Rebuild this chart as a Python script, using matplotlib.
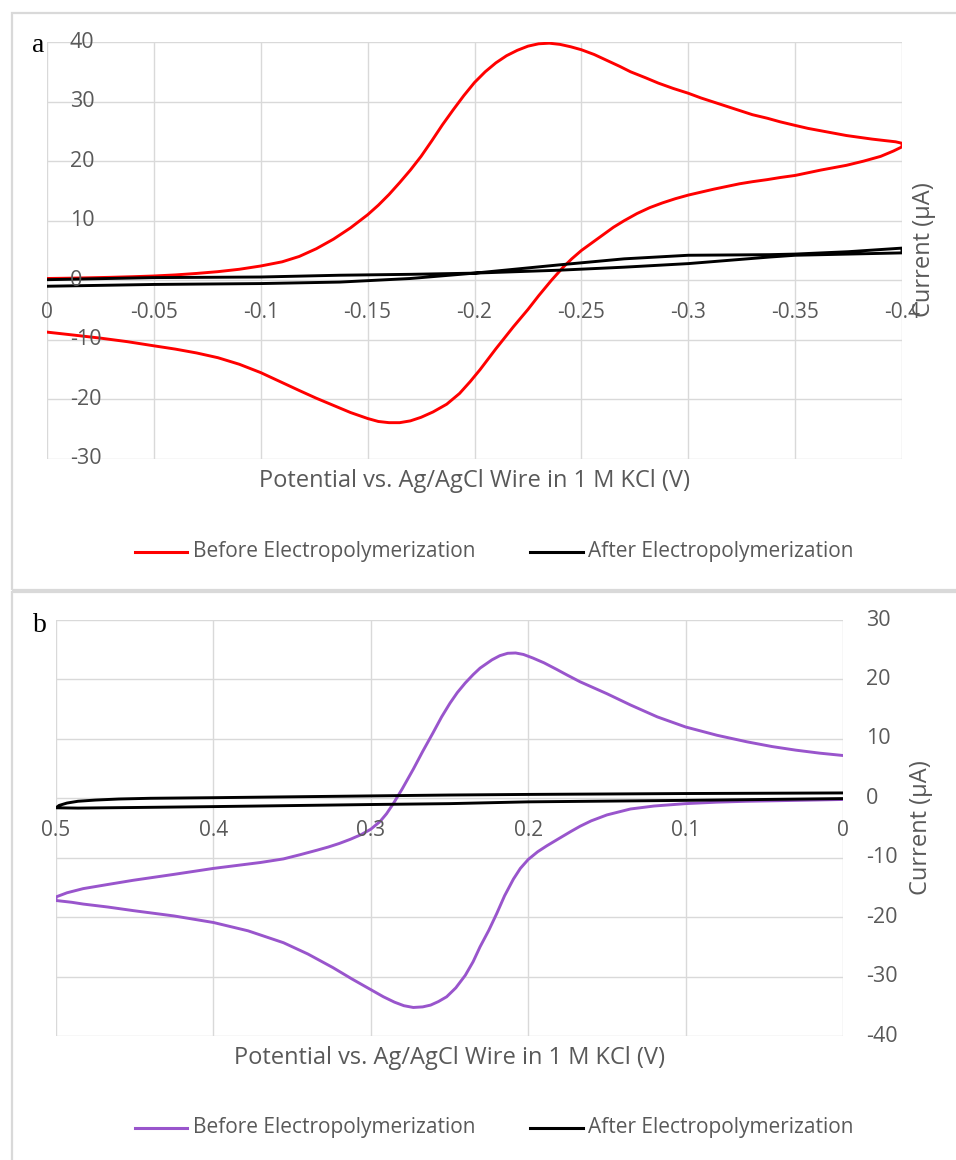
import matplotlib
matplotlib.use("Agg")
from matplotlib import pyplot as plt
from matplotlib.lines import Line2D
from matplotlib.patches import Rectangle

# --- panel a: potential swept 0 -> -0.4 V and back ---
pot_a_before_fwd = [0, -0.01, -0.02, -0.03, -0.04, -0.05, -0.06, -0.07, -0.08, -0.09,
                    -0.1, -0.11, -0.118, -0.126, -0.134, -0.142, -0.15, -0.155, -0.16,
                    -0.165, -0.17, -0.175, -0.18, -0.185, -0.19, -0.195, -0.2, -0.205,
                    -0.21, -0.215, -0.22, -0.225, -0.23, -0.235, -0.24, -0.245, -0.25,
                    -0.256, -0.262, -0.268, -0.273, -0.28, -0.286, -0.293, -0.3, -0.306,
                    -0.312, -0.318, -0.324, -0.33, -0.337, -0.343, -0.35, -0.356, -0.362,
                    -0.368, -0.374, -0.38, -0.386, -0.392, -0.397, -0.4]
cur_a_before_fwd = [0.3, 0.35, 0.42, 0.5, 0.6, 0.72, 0.9, 1.15, 1.45, 1.85,
                    2.4, 3.1, 4.0, 5.3, 6.9, 8.8, 11.0, 12.6, 14.4,
                    16.4, 18.5, 20.8, 23.4, 26.1, 28.6, 31.0, 33.2, 35.0,
                    36.5, 37.7, 38.6, 39.3, 39.7, 39.8, 39.6, 39.2, 38.7,
                    37.9, 36.9, 35.9, 35.0, 34.0, 33.1, 32.2, 31.4, 30.6,
                    29.9, 29.2, 28.5, 27.8, 27.2, 26.6, 26.0, 25.5, 25.1,
                    24.7, 24.3, 24.0, 23.7, 23.45, 23.25, 23.0]
pot_a_before_rev = [-0.4, -0.396, -0.39, -0.382, -0.374, -0.368, -0.362, -0.356, -0.35,
                    -0.343, -0.337, -0.33, -0.324, -0.318, -0.312, -0.306, -0.3, -0.294,
                    -0.288, -0.282, -0.276, -0.27, -0.265, -0.26, -0.255, -0.25, -0.2455,
                    -0.2415, -0.236, -0.23, -0.225, -0.2182, -0.21, -0.2026, -0.198,
                    -0.193, -0.187, -0.1806, -0.175, -0.17, -0.165, -0.16, -0.155, -0.15,
                    -0.142, -0.134, -0.126, -0.118, -0.109, -0.1, -0.09, -0.08, -0.07,
                    -0.06, -0.05, -0.0375, -0.0248, -0.0125, 0]
cur_a_before_rev = [22.4, 21.7, 20.8, 20.0, 19.3, 18.9, 18.5, 18.05, 17.6,
                    17.25, 16.9, 16.55, 16.2, 15.75, 15.3, 14.8, 14.3, 13.7,
                    13.0, 12.2, 11.2, 10.0, 8.9, 7.6, 6.3, 5.0, 3.6,
                    2.2, 0.0, -2.6, -4.9, -7.8, -11.5, -15.0, -17.0,
                    -19.0, -20.8, -22.1, -23.0, -23.6, -23.9, -23.9, -23.7, -23.2,
                    -22.2, -21.0, -19.8, -18.5, -17.0, -15.5, -14.1, -13.0, -12.2,
                    -11.55, -11.0, -10.3, -9.7, -9.2, -8.7]

pot_a_after_fwd = [0, -0.05, -0.1, -0.137, -0.17, -0.2, -0.24, -0.27, -0.3, -0.338,
                   -0.35, -0.375, -0.4]
cur_a_after_fwd = [0.1, 0.45, 0.55, 0.85, 1.0, 1.2, 1.7, 2.2, 2.8, 3.9,
                   4.2, 4.4, 4.6]
pot_a_after_rev = [-0.4, -0.375, -0.35, -0.338, -0.3, -0.27, -0.24, -0.2, -0.17,
                   -0.137, -0.1, -0.05, 0]
cur_a_after_rev = [5.4, 4.8, 4.4, 4.3, 4.2, 3.6, 2.6, 1.2, 0.3,
                   -0.3, -0.55, -0.7, -1.0]

# --- panel b: potential swept 0 -> 0.5 V and back ---
pot_b_before_up = [0, 0.015, 0.03, 0.045, 0.061, 0.08, 0.1, 0.118, 0.135, 0.15, 0.167,
                   0.175, 0.182, 0.19, 0.197, 0.203, 0.208, 0.213, 0.218, 0.223, 0.2306,
                   0.235, 0.24, 0.245, 0.2497, 0.255, 0.2605, 0.267, 0.273, 0.28, 0.2857,
                   0.29, 0.2941, 0.3, 0.306, 0.313, 0.32, 0.327, 0.3344, 0.345, 0.3555,
                   0.37, 0.385, 0.4, 0.425, 0.451, 0.467, 0.4827, 0.493, 0.5]
cur_b_before_up = [7.2, 7.6, 8.1, 8.7, 9.5, 10.6, 12.0, 13.7, 15.7, 17.6, 19.6,
                   20.7, 21.7, 22.8, 23.6, 24.2, 24.45, 24.4, 24.0, 23.3, 21.9,
                   20.8, 19.4, 17.8, 16.0, 13.7, 11.0, 7.9, 4.9, 1.6, -0.9,
                   -2.6, -3.9, -5.2, -6.1, -6.9, -7.6, -8.2, -8.75, -9.5, -10.2,
                   -10.8, -11.3, -11.8, -12.8, -13.8, -14.5, -15.2, -15.9, -16.6]
pot_b_before_low = [0.5, 0.49, 0.4827, 0.467, 0.451, 0.425, 0.4, 0.378, 0.3555, 0.34,
                    0.324, 0.312, 0.3, 0.292, 0.285, 0.279, 0.273, 0.267, 0.262, 0.257,
                    0.2518, 0.246, 0.24, 0.235, 0.2306, 0.225, 0.22, 0.215, 0.2094,
                    0.205, 0.2, 0.194, 0.1882, 0.18, 0.173, 0.167, 0.16, 0.15, 0.135,
                    0.12, 0.1, 0.08, 0.061, 0.04, 0.02, 0]
cur_b_before_low = [-17.2, -17.5, -17.8, -18.3, -18.9, -19.8, -20.9, -22.3, -24.3, -26.2,
                    -28.5, -30.4, -32.2, -33.4, -34.3, -34.9, -35.2, -35.1, -34.8, -34.2,
                    -33.4, -31.9, -29.8, -27.5, -25.0, -22.2, -19.4, -16.4, -13.6,
                    -11.8, -10.3, -9.0, -8.0, -6.7, -5.6, -4.7, -3.8, -2.8, -1.8,
                    -1.3, -0.9, -0.65, -0.5, -0.4, -0.3, -0.2]

pot_b_after_up = [0, 0.1, 0.2, 0.25, 0.3, 0.4, 0.44, 0.46, 0.475, 0.486, 0.493, 0.498, 0.5]
cur_b_after_up = [0.9, 0.8, 0.65, 0.55, 0.4, 0.1, 0.0, -0.12, -0.3, -0.5, -0.8, -1.2, -1.6]
pot_b_after_low = [0.5, 0.486, 0.45, 0.4, 0.3, 0.25, 0.2, 0.1, 0.05, 0]
cur_b_after_low = [-1.6, -1.65, -1.55, -1.4, -1.05, -0.9, -0.6, -0.35, -0.2, -0.05]

xticks_a = [0, -0.05, -0.1, -0.15, -0.2, -0.25, -0.3, -0.35, -0.4]
xlabels_a = ["0", "-0.05", "-0.1", "-0.15", "-0.2", "-0.25", "-0.3", "-0.35", "-0.4"]
yticks_a = [-30, -20, -10, 0, 10, 20, 30, 40]
xticks_b = [0.5, 0.4, 0.3, 0.2, 0.1, 0]
xlabels_b = ["0.5", "0.4", "0.3", "0.2", "0.1", "0"]
yticks_b = [-40, -30, -20, -10, 0, 10, 20, 30]

x_title = "Potential vs. Ag/AgCl Wire in 1 M KCl (V)"
y_title = "Current (\u00b5A)"
series_names = ["Before Electropolymerization", "After Electropolymerization"]

TXT = "#595959"
GRID = "#d9d9d9"
W, H = 956, 1160

plt.rcParams["font.family"] = ["Open Sans", "DejaVu Sans"]

fig = plt.figure(figsize=(W / 100, H / 100), dpi=100)


def box(x0, y0, x1, y1):
    return [x0 / W, 1 - y1 / H, (x1 - x0) / W, (y1 - y0) / H]


def fy(y):
    return 1 - y / H


# light frames around the two panels
for (x0, y0, x1, y1) in [(12, 13, 962, 590), (12, 592, 962, 1170)]:
    fig.add_artist(Rectangle((x0 / W, fy(y1)), (x1 - x0) / W, (y1 - y0) / H,
                             transform=fig.transFigure, fill=False,
                             edgecolor=GRID, lw=1.6))


def style(ax, xticks, xlabels, yticks, ylab_x):
    ax.set_xticks(xticks)
    ax.set_yticks(yticks)
    ax.grid(True, color=GRID, lw=1.0)
    ax.set_axisbelow(True)
    for s in ax.spines.values():
        s.set_visible(False)
    ax.tick_params(length=0, labelbottom=False, labelleft=False)
    # tick labels sit along the zero-current line
    for t, lab in zip(xticks, xlabels):
        ax.annotate(lab, xy=(t, 0), xytext=(0, -23), textcoords="offset points",
                    ha="center", va="center", fontsize=15, color=TXT)
    for t in yticks:
        ax.text(ylab_x, t, str(t), transform=ax.get_yaxis_transform(),
                ha="left", va="center", fontsize=15.5, color=TXT)


# panel a
axa = fig.add_axes(box(47, 42, 902, 459))
axa.set_xlim(0, -0.4)
axa.set_ylim(-30, 40)
style(axa, xticks_a, xlabels_a, yticks_a, (70 - 47) / 855)
axa.plot(pot_a_before_fwd + pot_a_before_rev, cur_a_before_fwd + cur_a_before_rev,
         color="#ff0000", lw=2.1, solid_joinstyle="round")
axa.plot(pot_a_after_fwd + pot_a_after_rev, cur_a_after_fwd + cur_a_after_rev,
         color="black", lw=2.1, solid_joinstyle="round")

# panel b
axb = fig.add_axes(box(56, 620, 843, 1036))
axb.set_xlim(0.5, 0)
axb.set_ylim(-40, 30)
style(axb, xticks_b, xlabels_b, yticks_b, (866 - 56) / 787)
axb.plot(pot_b_before_up + pot_b_before_low, cur_b_before_up + cur_b_before_low,
         color="#9955cc", lw=2.1, solid_joinstyle="round")
axb.plot(pot_b_after_up + pot_b_after_low, cur_b_after_up + cur_b_after_low,
         color="black", lw=2.1, solid_joinstyle="round")

# axis titles
fig.text(474.5 / W, fy(481), x_title, ha="center", va="center", fontsize=17, color=TXT)
fig.text(449.5 / W, fy(1058), x_title, ha="center", va="center", fontsize=17, color=TXT)
fig.text(924 / W, fy(250), y_title, rotation=90, ha="center", va="center",
         fontsize=17, color=TXT)
fig.text(921 / W, fy(828), y_title, rotation=90, ha="center", va="center",
         fontsize=17, color=TXT)

# panel letters
fig.text(38 / W, fy(45), "a", ha="center", va="center", fontsize=20,
         family="Liberation Serif", color="black")
fig.text(40 / W, fy(625), "b", ha="center", va="center", fontsize=20,
         family="Liberation Serif", color="black")

# legends
for ly, first_color in [(551.5, "#ff0000"), (1128, "#9955cc")]:
    for (x0, x1, tx), col, name in zip([(135, 187, 193), (530, 583, 588)],
                                      [first_color, "black"], series_names):
        fig.add_artist(Line2D([x0 / W, x1 / W], [fy(ly), fy(ly)],
                              transform=fig.transFigure, color=col, lw=2.2))
        fig.text(tx / W, fy(ly), name, ha="left", va="center", fontsize=15, color=TXT)

fig.savefig("out.png", dpi=100)
